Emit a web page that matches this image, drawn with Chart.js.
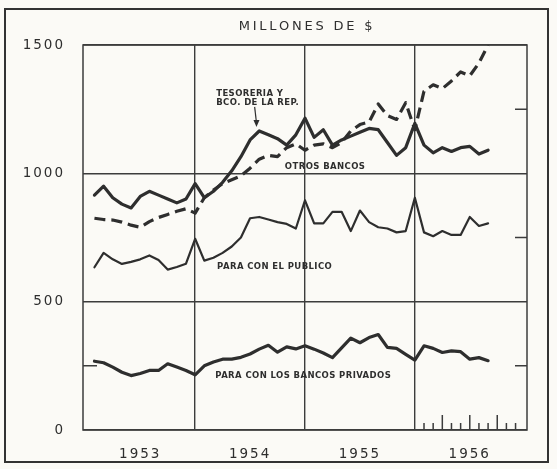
<!DOCTYPE html>
<html lang="es">
<head>
<meta charset="UTF-8">
<title>Millones de $</title>
<style>
  body { margin: 0; background: #fbfaf6; }
  #wrap { width: 557px; height: 469px; position: relative; }
</style>
<script src="https://cdn.jsdelivr.net/npm/chart.js"></script>
</head>
<body>
<div id="wrap"><canvas id="chart" width="557" height="469"></canvas></div>
<script>
// monthly data, Jan 1953 .. Aug 1956 (millones de $)
const years = ['1953', '1954', '1955', '1956'];
const yTicks = [0, 500, 1000, 1500];

const tesoreria = [
  915, 950, 905, 880, 865, 910, 930, 915, 900, 885, 900, 960,
  905, 930, 965, 1010, 1065, 1130, 1165, 1150, 1135, 1110, 1150, 1215,
  1140, 1170, 1110, 1130, 1145, 1160, 1175, 1170, 1120, 1070, 1100, 1195,
  1110, 1080, 1100, 1085, 1100, 1105, 1075, 1090
];
const otrosBancos = [
  825, 820, 818, 810, 798, 790, 812, 828, 840, 852, 862, 845,
  905, 935, 960, 975, 990, 1020, 1055, 1070, 1065, 1100, 1115, 1090,
  1110, 1115, 1100, 1120, 1165, 1190, 1200, 1270, 1225, 1210, 1275, 1170,
  1320, 1345, 1330, 1360, 1395, 1380, 1430, 1500
];
const publico = [
  634, 690, 665, 647, 655, 665, 680, 662, 625, 635, 648, 745,
  660, 671, 690, 715, 750, 825, 830, 820, 810, 803, 785, 895,
  805, 805, 850, 850, 775, 855, 810, 790, 785, 770, 775, 905,
  770, 755, 775, 760, 760, 830, 795, 805
];
const privados = [
  268, 262, 245, 225, 212, 220, 232, 232, 258, 245, 232, 215,
  250, 265, 276, 276, 283, 296, 315, 330, 303, 324, 316, 328,
  315, 300, 282, 320, 358, 340, 360, 372, 322, 318, 295, 272,
  328, 318, 302, 308, 305, 276, 282, 270
];

// text notes on the plot, placed in data units (month, value)
const notes = [
  { text: 'TESORERIA Y', x: 14.3, y: 1309 },
  { text: 'BCO. DE LA REP.', x: 14.3, y: 1274 },
  { text: 'OTROS BANCOS', x: 21.8, y: 1025 },
  { text: 'PARA CON EL PUBLICO', x: 14.4, y: 635 },
  { text: 'PARA CON LOS BANCOS PRIVADOS', x: 14.2, y: 210 }
];

const ink = '#2e2e2e';
const gridInk = '#3c3c3c';

const toPoints = arr => arr.map((v, i) => ({ x: i + 1, y: v }));

// frame, title, notes and small month ticks
const decor = {
  id: 'decor',
  beforeDraw(chart) {
    chart.ctx.letterSpacing = '2px';
  },
  afterDraw(chart) {
    const c = chart.ctx;
    const a = chart.chartArea;
    const xs = chart.scales.x, ys = chart.scales.y;
    c.save();
    c.strokeStyle = gridInk;
    c.lineWidth = 1.5;
    c.strokeRect(a.left, a.top, a.right - a.left, a.bottom - a.top);

    // short ticks on the frame
    c.beginPath();
    [250, 750, 1250].forEach(v => {
      const y = ys.getPixelForValue(v);
      c.moveTo(a.right - 12, y); c.lineTo(a.right, y);
    });
    const y250 = ys.getPixelForValue(250);
    c.moveTo(a.left, y250); c.lineTo(a.left + 14, y250);
    for (let m = 37; m <= 47; m++) {
      const x = xs.getPixelForValue(m);
      c.moveTo(x, a.bottom); c.lineTo(x, a.bottom - (m % 3 === 0 ? 15 : 7));
    }
    c.stroke();

    // outer page border
    c.lineWidth = 2;
    c.strokeStyle = '#333';
    c.strokeRect(5, 9, 543, 453);

    // title
    c.fillStyle = ink;
    c.letterSpacing = '2.8px';
    c.font = '13px "DejaVu Sans"';
    c.textAlign = 'center';
    c.textBaseline = 'middle';
    c.fillText('MILLONES DE $', (a.left + a.right) / 2 + 2, 27);

    // notes
    c.letterSpacing = '0.4px';
    c.font = 'bold 8.5px "DejaVu Sans"';
    c.textAlign = 'left';
    notes.forEach(n => c.fillText(n.text, xs.getPixelForValue(n.x), ys.getPixelForValue(n.y)));

    // arrow to the treasury line
    const x0 = xs.getPixelForValue(18.5), y0 = ys.getPixelForValue(1259);
    const x1 = xs.getPixelForValue(18.7), y1 = ys.getPixelForValue(1181);
    c.lineWidth = 1.2;
    c.strokeStyle = ink;
    c.beginPath(); c.moveTo(x0, y0); c.lineTo(x1, y1 - 4); c.stroke();
    c.beginPath();
    c.moveTo(x1, y1); c.lineTo(x1 - 3, y1 - 7); c.lineTo(x1 + 3, y1 - 7); c.closePath();
    c.fill();
    c.restore();
    c.letterSpacing = '0px';
  }
};

const tickFont = { family: 'DejaVu Sans', size: 13.5 };

new Chart(document.getElementById('chart'), {
  type: 'line',
  data: {
    datasets: [
      { label: 'Tesorería y Bco. de la Rep.', data: toPoints(tesoreria), borderColor: ink, borderWidth: 3.2 },
      { label: 'Otros bancos', data: toPoints(otrosBancos), borderColor: ink, borderWidth: 3.2, borderDash: [11, 6], borderCapStyle: 'butt' },
      { label: 'Para con el público', data: toPoints(publico), borderColor: ink, borderWidth: 2.2 },
      { label: 'Para con los bancos privados', data: toPoints(privados), borderColor: ink, borderWidth: 3.2 }
    ]
  },
  options: {
    responsive: false,
    animation: false,
    layout: { padding: { top: 45, right: 30, left: 0, bottom: 0 } },
    plugins: { legend: { display: false }, tooltip: { enabled: false }, title: { display: false } },
    elements: {
      point: { radius: 0 },
      line: { tension: 0, borderJoinStyle: 'round', borderCapStyle: 'round', fill: false }
    },
    scales: {
      x: {
        type: 'linear',
        min: -0.25,
        max: 48.25,
        afterBuildTicks: s => { s.ticks = [6, 12, 18, 24, 30, 36, 42].map(v => ({ value: v })); },
        afterFit: s => { s.height = 39; },
        border: { display: false },
        grid: {
          drawTicks: false,
          lineWidth: 1.4,
          color: ctx => (ctx.tick && ctx.tick.value % 12 === 0) ? gridInk : 'rgba(0,0,0,0)'
        },
        ticks: {
          autoSkip: false,
          maxRotation: 0,
          padding: 16,
          color: ink,
          font: tickFont,
          callback: v => (v % 12 === 6 ? years[(v - 6) / 12] : '')
        }
      },
      y: {
        min: 0,
        max: 1500,
        afterBuildTicks: s => { s.ticks = yTicks.map(v => ({ value: v })); },
        afterFit: s => { s.width = 83; },
        border: { display: false },
        grid: { drawTicks: false, lineWidth: 1.4, color: gridInk },
        ticks: { padding: 18, color: ink, font: tickFont, callback: v => String(v) }
      }
    }
  },
  plugins: [decor]
});
</script>
</body>
</html>
